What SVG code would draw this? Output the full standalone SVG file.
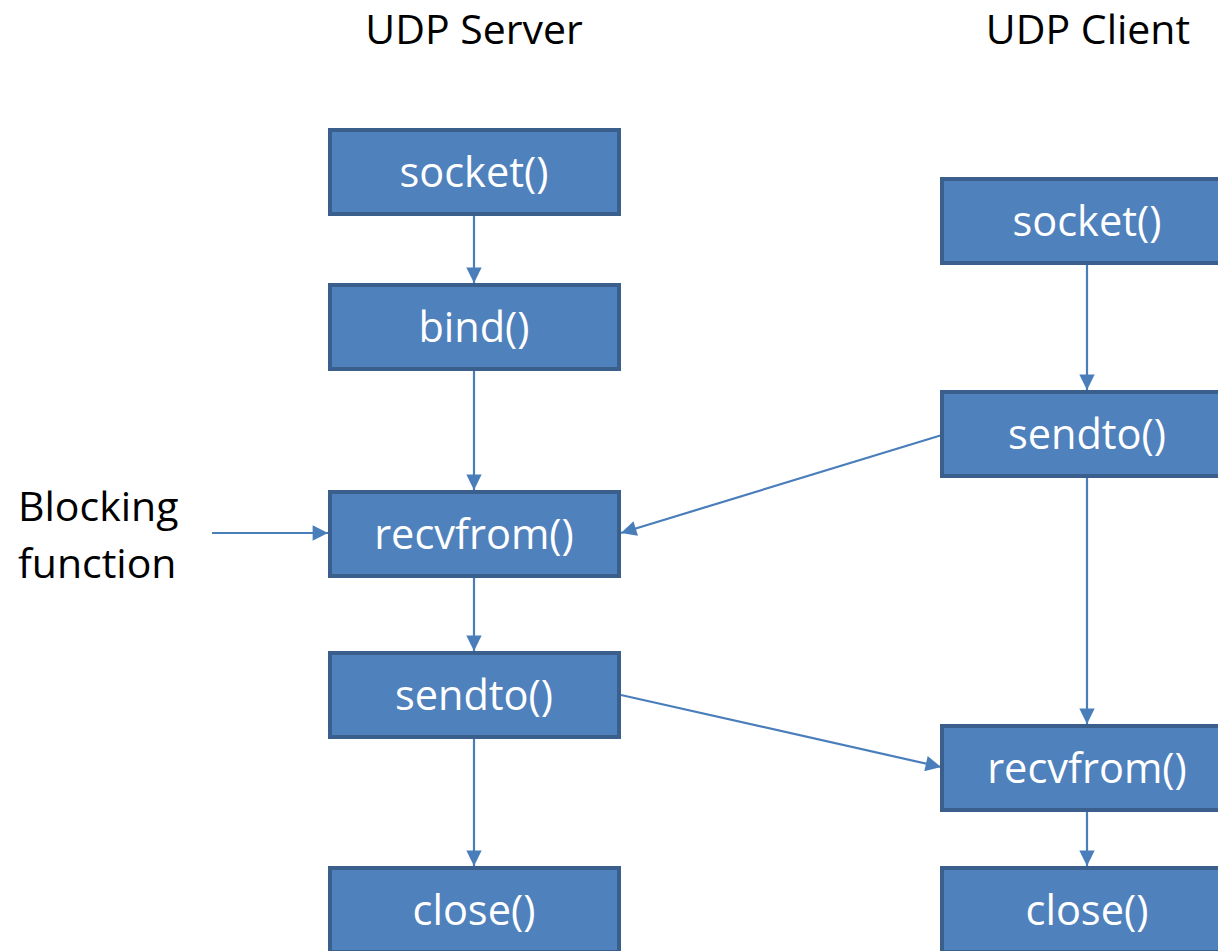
<svg xmlns="http://www.w3.org/2000/svg" width="1218" height="951" viewBox="0 0 1218 951">
<style>
.box{fill:#4F81BD;stroke:#3A5F8C;stroke-width:4}
.lbl{font-family:"Open Sans","Liberation Sans",sans-serif;font-size:41.5px;fill:#FFFFFF;text-anchor:middle}
.ttl{font-family:"Open Sans","Liberation Sans",sans-serif;font-size:41px;fill:#000000}
.con{stroke:#4A7EBB;stroke-width:2.2;fill:none;marker-end:url(#ah)}
</style>
<defs>
<marker id="ah" viewBox="0 0 10 10" refX="10" refY="5" markerWidth="7.5" markerHeight="7" orient="auto" markerUnits="strokeWidth">
<path d="M0,0 L10,5 L0,10 z" fill="#4A7EBB"/>
</marker>
</defs>
<rect width="1218" height="951" fill="#FFFFFF"/>
<text class="ttl" x="474" y="44" text-anchor="middle">UDP Server</text>
<text class="ttl" x="1088" y="44" text-anchor="middle">UDP Client</text>
<g id="blocking-label"><text class="ttl" x="18" y="521">Blocking</text><text class="ttl" x="18" y="578">function</text></g>
<g id="connectors">
<line class="con" x1="474" y1="215" x2="474" y2="283"/>
<line class="con" x1="474" y1="370" x2="474" y2="490"/>
<line class="con" x1="474" y1="577" x2="474" y2="651"/>
<line class="con" x1="474" y1="738" x2="474" y2="866"/>
<line class="con" x1="1087" y1="264" x2="1087" y2="390"/>
<line class="con" x1="1087" y1="477" x2="1087" y2="724"/>
<line class="con" x1="1087" y1="811" x2="1087" y2="866"/>
<line class="con" x1="212" y1="533" x2="328" y2="533"/>
<line class="con" x1="942" y1="435" x2="621" y2="533"/>
<line class="con" x1="621" y1="695" x2="941" y2="767"/>
</g>
<g id="s-socket"><rect class="box" x="330" y="130" width="289" height="84"/><text class="lbl" x="474" y="187">socket()</text></g>
<g id="s-bind"><rect class="box" x="330" y="285" width="289" height="84"/><text class="lbl" x="474" y="342">bind()</text></g>
<g id="s-recvfrom"><rect class="box" x="330" y="492" width="289" height="84"/><text class="lbl" x="474" y="549">recvfrom()</text></g>
<g id="s-sendto"><rect class="box" x="330" y="653" width="289" height="84"/><text class="lbl" x="474" y="710">sendto()</text></g>
<g id="s-close"><rect class="box" x="330" y="868" width="289" height="84"/><text class="lbl" x="474" y="925">close()</text></g>
<g id="c-socket"><rect class="box" x="942" y="179" width="290" height="84"/><text class="lbl" x="1087" y="236">socket()</text></g>
<g id="c-sendto"><rect class="box" x="942" y="392" width="290" height="84"/><text class="lbl" x="1087" y="449">sendto()</text></g>
<g id="c-recvfrom"><rect class="box" x="942" y="726" width="290" height="84"/><text class="lbl" x="1087" y="783">recvfrom()</text></g>
<g id="c-close"><rect class="box" x="942" y="868" width="290" height="84"/><text class="lbl" x="1087" y="925">close()</text></g>
</svg>
